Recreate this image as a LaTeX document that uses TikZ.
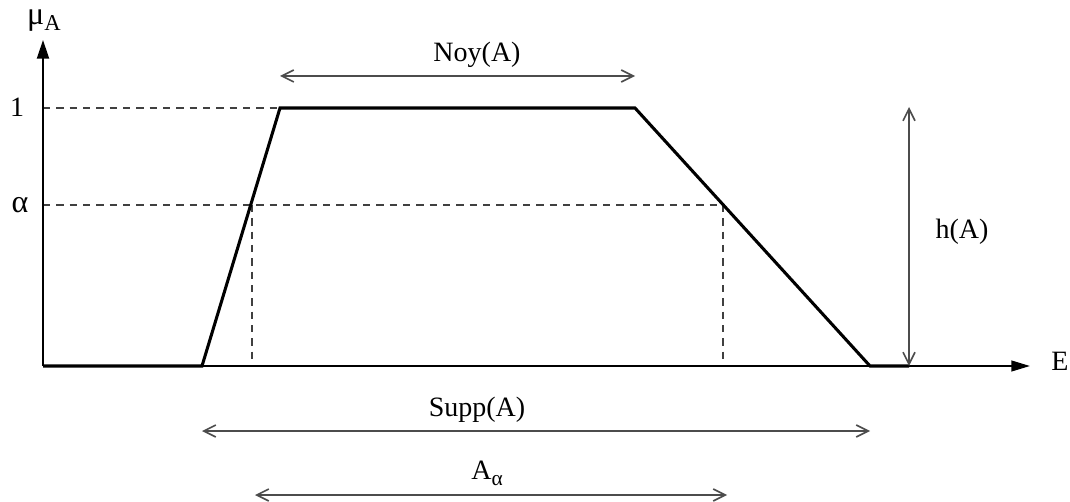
\documentclass[tikz,border=0pt]{standalone}
\usepackage{fontspec}
\setmainfont{Liberation Serif}
\usetikzlibrary{arrows.meta}
\begin{document}
\begin{tikzpicture}[x=0.75pt,y=-0.75pt,
  axis/.style={line width=1.6pt,black},
  curve/.style={line width=2.3pt,black,line join=miter},
  guide/.style={line width=0.9pt,black!75,dash pattern=on 5.5pt off 4.5pt},
  span/.style={line width=1.2pt,black!70,{Straight Barb[length=9pt,width=9pt]}-{Straight Barb[length=9pt,width=9pt]}},
  lbl/.style={font=\fontsize{21}{25}\selectfont,inner sep=0pt}]
\useasboundingbox (0,0) rectangle (1070,502);
% coordinates
\coordinate (O) at (43,366);
\coordinate (ytop) at (43,40);
\coordinate (xend) at (1030,366);
\coordinate (s0) at (202,366);
\coordinate (k0) at (280,108);
\coordinate (k1) at (635,108);
\coordinate (s1) at (870,366);
\coordinate (y1) at (43,108);
\coordinate (ya) at (43,205);
\coordinate (a0) at (252,205);
\coordinate (a1) at (723,205);
\coordinate (a0b) at (252,366);
\coordinate (a1b) at (723,366);
\coordinate (nL) at (280,76);
\coordinate (nR) at (635,76);
\coordinate (hT) at (909,107);
\coordinate (hB) at (909,366);
\coordinate (sL) at (202,431);
\coordinate (sR) at (870,431);
\coordinate (aL) at (255,495);
\coordinate (aR) at (727,495);
% labels
\node[lbl] (mu) at (44,21) {\fontsize{24}{26}\selectfont μ\raisebox{-0.35ex}{\fontsize{17}{19}\selectfont A}};
\node[lbl] (one) at (17,107) {1};
\node[lbl] (alpha) at (20,205) {\fontsize{24}{26}\selectfont α};
\node[lbl] (noy) at (477,55) {Noy(A)};
\node[lbl] (hA) at (962,232) {h(A)};
\node[lbl] (E) at (1060,361) {E};
\node[lbl] (supp) at (477,410) {Supp(A)};
\node[lbl] (Aa) at (487,473) {A\raisebox{-0.45ex}{\fontsize{16}{18}\selectfont α}};
% guides
\draw[guide] (y1) -- (k0);
\draw[guide] (ya) -- (a1);
\draw[guide] (a0) -- (a0b);
\draw[guide] (a1) -- (a1b);
% axes
\draw[axis,-{Triangle[length=14pt,width=8pt]}] (O) -- (xend);
\draw[axis,-{Triangle[length=14pt,width=9pt]}] (O) -- (ytop);
% membership function
\draw[curve] (O) -- (s0) -- (k0) -- (k1) -- (s1) -- (hB);
% spans
\draw[span] (nL) -- (nR);
\draw[span] (hT) -- (hB);
\draw[span] (sL) -- (sR);
\draw[span] (aL) -- (aR);
\end{tikzpicture}
\end{document}
